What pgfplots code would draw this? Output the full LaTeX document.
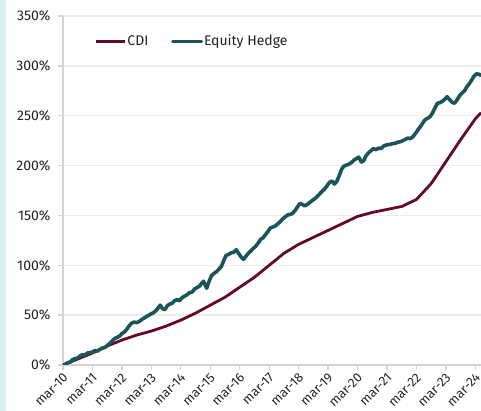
\documentclass[border=0pt]{standalone}
\usepackage{fontspec}
\setmainfont{Fira Sans}
\usepackage{pgfplots}
\pgfplotsset{compat=1.18}
\definecolor{cdi}{RGB}{100,8,45}
\definecolor{eh}{RGB}{28,85,88}
\definecolor{gridc}{RGB}{236,236,236}
\definecolor{axc}{RGB}{212,212,212}
\definecolor{strip}{RGB}{216,240,243}
\definecolor{txt}{RGB}{35,35,35}
\begin{document}
\begin{tikzpicture}
\useasboundingbox (-63pt,-46pt) rectangle (418pt,365pt);
\fill[strip] (-63pt,-46pt) rectangle (-57pt,365pt);
\begin{axis}[
  at={(0pt,0pt)}, anchor=south west,
  scale only axis, width=418pt, height=349pt,
  xmin=2010, xmax=2024.19, ymin=0, ymax=350,
  axis x line*=bottom, axis y line*=left,
  axis line style={axc, line width=1.5pt, -},
  xtick={2010,...,2024},
  xticklabels={mar-10,mar-11,mar-12,mar-13,mar-14,mar-15,mar-16,mar-17,mar-18,mar-19,mar-20,mar-21,mar-22,mar-23,mar-24},
  ytick={0,50,...,350},
  yticklabel={\pgfmathprintnumber{\tick}\%},
  /pgf/number format/assume math mode=true,
  tick align=outside, major tick length=5pt,
  tick style={axc, line width=1.3pt},
  ymajorgrids, grid style={gridc, line width=1.5pt},
  x tick label style={rotate=45, anchor=north east, font=\fontsize{13}{15}\selectfont, text=txt, inner sep=1pt, xshift=-1pt},
  y tick label style={font=\fontsize{14}{16}\selectfont, text=txt, xshift=-4pt},
  legend columns=2,
  legend style={at={(0.068,0.928)}, anchor=west, draw=none, fill=none,
     font=\fontsize{14}{16}\selectfont, text=txt, nodes={inner xsep=0.8pt},
     /tikz/every even column/.append style={column sep=22pt}},
  legend image code/.code={\draw[#1,line width=3pt] (0pt,0pt) -- (29pt,0pt);},
]
\addplot[cdi, line width=2.8pt, line join=round] coordinates {
(2010.0,0) (2010.5,6) (2011.0,12) (2011.5,19) (2012.0,25) (2012.5,30)
(2013.0,34) (2013.5,39) (2014.0,45) (2014.5,52) (2015.0,60) (2015.5,68)
(2016.0,78) (2016.5,88) (2017.0,100) (2017.5,112) (2018.0,121) (2018.5,128)
(2019.0,135) (2019.5,142) (2020.0,149) (2020.5,153) (2021.0,156) (2021.5,159)
(2022.0,166) (2022.5,182) (2023.0,204) (2023.5,226) (2024.0,247) (2024.19,253)
};
\addlegendentry{CDI}
\addplot[eh, line width=3.6pt, line join=round, line cap=round] coordinates {
(2010.00,0) (2010.08,0.5) (2010.17,2.5) (2010.25,3.0) (2010.33,5.5) (2010.42,6.5)
(2010.50,7.0) (2010.58,9.0) (2010.67,10.5) (2010.75,10.0) (2010.83,12.0) (2010.92,12.5)
(2011.00,13.0) (2011.08,14.5) (2011.17,14.0) (2011.25,15.5) (2011.33,17.0) (2011.42,17.5)
(2011.50,19.5) (2011.58,21.5) (2011.67,24.0) (2011.75,26.5) (2011.83,27.5) (2011.92,29.0)
(2012.00,31.5) (2012.08,33.0) (2012.17,36.0) (2012.25,39.5) (2012.33,42.0) (2012.42,43.0)
(2012.50,42.5) (2012.58,43.5) (2012.67,45.5) (2012.75,47.0) (2012.83,48.5) (2012.92,50.0)
(2013.00,51.5) (2013.08,52.5) (2013.17,55.0) (2013.25,58.0) (2013.30,60.0) (2013.38,56.5)
(2013.46,55.5) (2013.54,59.5) (2013.62,61.0) (2013.71,62.0) (2013.79,64.5) (2013.88,65.5)
(2013.96,64.5) (2014.04,67.5) (2014.13,69.0) (2014.21,70.5) (2014.29,72.5) (2014.38,73.0)
(2014.46,76.0) (2014.54,77.5) (2014.63,79.0) (2014.71,82.0) (2014.77,84.0) (2014.83,80.0)
(2014.88,77.0) (2014.96,84.0) (2015.04,89.5) (2015.13,92.0) (2015.21,93.5) (2015.29,96.0)
(2015.38,99.0) (2015.46,105.0) (2015.54,110.0) (2015.63,111.0) (2015.71,112.5) (2015.79,113.0)
(2015.88,115.5) (2015.96,112.0) (2016.04,108.5) (2016.13,106.0) (2016.21,109.0) (2016.29,112.0)
(2016.38,114.5) (2016.46,117.0) (2016.54,119.0) (2016.63,122.5) (2016.71,126.0) (2016.79,127.5)
(2016.88,131.0) (2016.96,134.0) (2017.04,137.5) (2017.13,138.5) (2017.21,139.5) (2017.29,141.5)
(2017.38,144.0) (2017.46,146.5) (2017.54,148.5) (2017.63,150.5) (2017.71,151.0) (2017.79,152.0)
(2017.88,155.0) (2017.96,158.5) (2018.04,162.0) (2018.13,161.0) (2018.21,159.5) (2018.29,161.0)
(2018.38,163.0) (2018.46,165.0) (2018.54,166.5) (2018.63,169.0) (2018.71,171.5) (2018.79,174.0)
(2018.88,176.5) (2018.96,179.5) (2019.04,183.0) (2019.13,184.5) (2019.21,181.5) (2019.29,184.0)
(2019.38,190.0) (2019.46,196.5) (2019.54,199.5) (2019.63,200.5) (2019.71,201.5) (2019.79,203.0)
(2019.88,205.5) (2019.96,207.0) (2020.04,208.5) (2020.13,203.5) (2020.21,205.0) (2020.29,210.0)
(2020.38,213.0) (2020.46,215.0) (2020.54,217.0) (2020.63,216.0) (2020.71,217.5) (2020.79,217.0)
(2020.88,219.5) (2020.96,220.5) (2021.04,221.0) (2021.13,221.5) (2021.21,222.0) (2021.29,222.5)
(2021.38,223.5) (2021.46,224.0) (2021.54,225.0) (2021.63,226.5) (2021.71,227.5) (2021.79,227.0)
(2021.88,229.0) (2021.96,232.0) (2022.04,235.5) (2022.13,239.0) (2022.21,242.5) (2022.29,246.0)
(2022.38,247.5) (2022.46,249.0) (2022.54,252.5) (2022.63,258.0) (2022.71,262.5) (2022.79,263.0)
(2022.88,264.5) (2022.96,266.5) (2023.04,269.0) (2023.13,266.0) (2023.21,263.5) (2023.29,262.5)
(2023.38,266.0) (2023.46,270.0) (2023.54,272.5) (2023.63,275.0) (2023.71,279.0) (2023.79,282.0)
(2023.88,286.0) (2023.96,290.0) (2024.04,292.0) (2024.13,291.5) (2024.19,290.5)
};
\addlegendentry{Equity Hedge}
\end{axis}
\end{tikzpicture}
\end{document}
